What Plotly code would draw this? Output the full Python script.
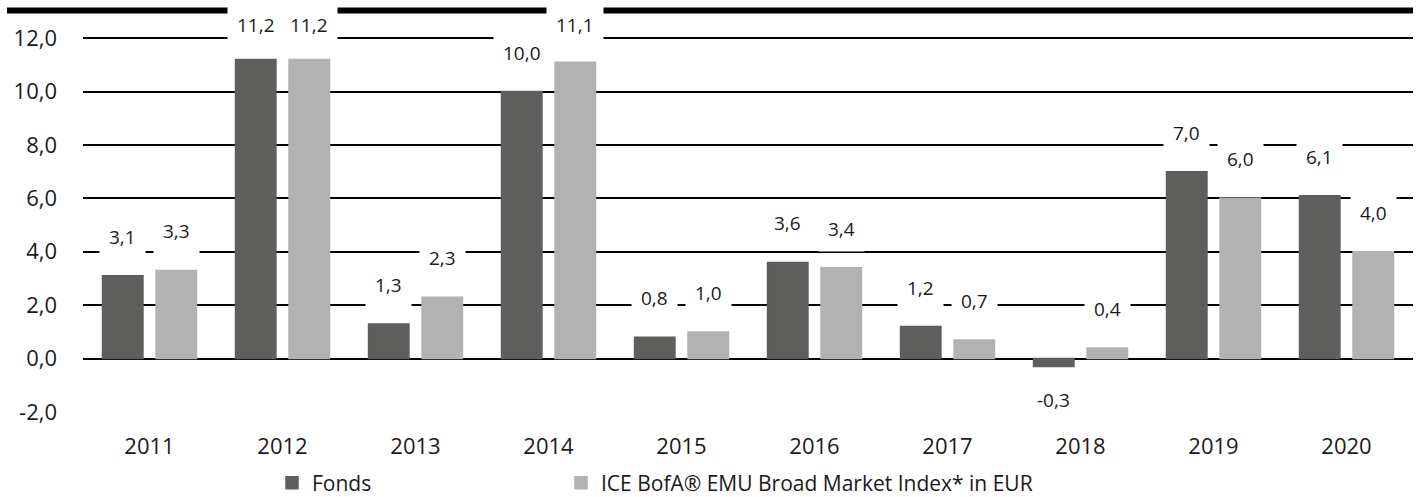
import plotly.graph_objects as go

# ---- data ----
years = ["2011", "2012", "2013", "2014", "2015", "2016", "2017", "2018", "2019", "2020"]
fonds = [3.1, 11.2, 1.3, 10.0, 0.8, 3.6, 1.2, -0.3, 7.0, 6.1]
index_vals = [3.3, 11.2, 2.3, 11.1, 1.0, 3.4, 0.7, 0.4, 6.0, 4.0]
series_names = ["Fonds", "ICE BofA® EMU Broad Market Index* in EUR"]
y_ticks = [-2, 0, 2, 4, 6, 8, 10, 12]

# ---- layout constants ----
W, H = 1418, 497
ML, MR, MT, MB = 83, 5, 36, 85
YMIN, YMAX = -2, 12.08
PH = H - MT - MB
PW = W - ML - MR
PX_PER_UNIT = PH / (YMAX - YMIN)
BARGAP = 0.195

C_FONDS = "#5e5e5c"
C_INDEX = "#b2b2b2"
FONT = "Open Sans"
TXT = "#1a1a1a"


def fmt(v):
    return f"{v:.1f}".replace(".", ",")


def px_x(p):
    return (p - ML) / PW


def px_y(p):
    return (H - MB - p) / PH


fig = go.Figure()
fig.add_trace(go.Bar(x=years, y=fonds, name=series_names[0],
                     marker=dict(color=C_FONDS, line=dict(color=C_FONDS, width=1.5)),
                     legend="legend"))
fig.add_trace(go.Bar(x=years, y=index_vals, name=series_names[1],
                     marker=dict(color=C_INDEX, line=dict(color=C_INDEX, width=1.5)),
                     legend="legend2"))

# data labels with white boxes (x given as category index)
n = len(years)
slot_px = (1 - BARGAP) / 2 * (PW / n)
for si, vals in enumerate([fonds, index_vals]):
    for i, v in enumerate(vals):
        py = MT + (YMAX - v) * PX_PER_UNIT
        if v >= 0:
            shift = min(39, py - 25)
        else:
            shift = -33
        fig.add_annotation(
            x=i, y=v, xref="x", yref="y",
            text=fmt(v),
            showarrow=False, yshift=shift,
            xshift=(-1 if si == 0 else 1) * slot_px / 2,
            bgcolor="white", borderpad=9,
            font=dict(family=FONT, size=19, color=TXT),
        )

# thick top rule
fig.add_shape(type="line", xref="paper", yref="paper",
              x0=px_x(7), x1=px_x(1413), y0=px_y(10.5), y1=px_y(10.5),
              line=dict(color="black", width=6))

legend_common = dict(orientation="h", xanchor="left", yanchor="middle",
                     y=px_y(483), font=dict(family=FONT, size=21, color=TXT),
                     itemclick=False, bgcolor="rgba(0,0,0,0)")

fig.update_layout(
    width=W, height=H,
    margin=dict(l=ML, r=MR, t=MT, b=MB, autoexpand=False),
    paper_bgcolor="white", plot_bgcolor="white",
    barmode="group", bargap=BARGAP, bargroupgap=0.245,
    font=dict(family=FONT, size=19, color=TXT),
    showlegend=True,
    legend=dict(x=px_x(272), **legend_common),
    legend2=dict(x=px_x(561), **legend_common),
    xaxis=dict(type="category", range=[-0.5, n - 0.5],
               showgrid=False, showline=False, ticks="",
               ticklabelstandoff=19,
               tickfont=dict(family=FONT, size=22, color=TXT)),
    yaxis=dict(range=[YMIN, YMAX], tickvals=y_ticks,
               ticktext=[fmt(t) for t in y_ticks],
               showgrid=True, gridcolor="black", gridwidth=2,
               zeroline=True, zerolinecolor="black", zerolinewidth=2,
               showline=False, ticks="", ticklabelstandoff=25,
               tickfont=dict(family=FONT, size=22, color=TXT)),
)

fig.write_html(
    "out.html",
    config={"displayModeBar": False},
    post_script="document.body.style.margin='0';document.body.style.overflow='hidden';",
)
